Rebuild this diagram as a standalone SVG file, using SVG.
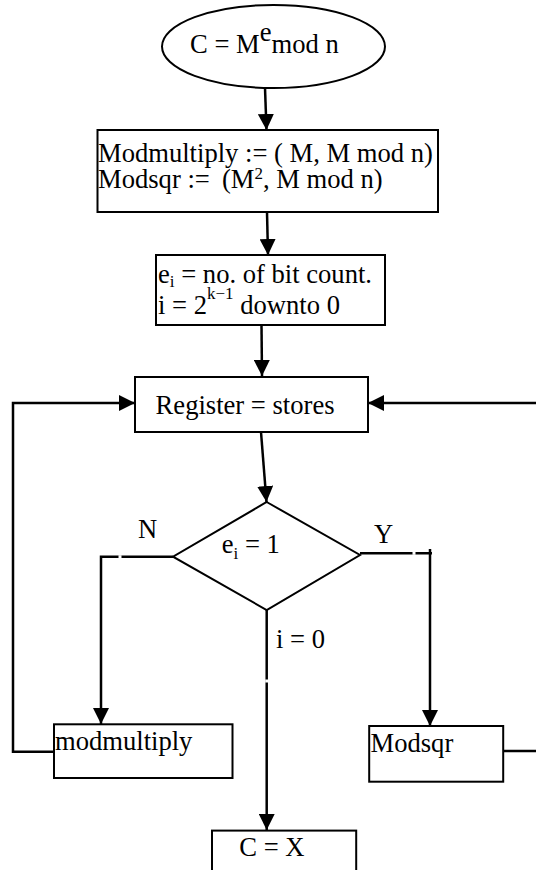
<svg xmlns="http://www.w3.org/2000/svg" width="536" height="870" viewBox="0 0 536 870">
  <style>
    text { font-family: 'Liberation Serif', 'Times New Roman', 'DejaVu Serif', serif; font-size: 26.6px; fill: #000; }
    .sup { font-size: 17px; }
    .sub { font-size: 17px; }
    .shape { fill: #fff; stroke: #000; stroke-width: 2; }
    .conn { fill: none; stroke: #000; stroke-width: 2.5; }
    .gap { stroke: #fff; stroke-width: 3; }
  </style>
  <defs>
    <marker id="arrow" markerUnits="userSpaceOnUse" markerWidth="16" markerHeight="16" refX="16" refY="8" orient="auto">
      <path d="M0,0 L16,8 L0,16 Z" fill="#000"/>
    </marker>
  </defs>

  <rect width="536" height="870" fill="#fff"/>

  <!-- connectors -->
  <g id="connectors">
    <line class="conn" x1="265" y1="88" x2="266.5" y2="130" marker-end="url(#arrow)"/>
    <line class="conn" x1="267" y1="212" x2="268" y2="255" marker-end="url(#arrow)"/>
    <line class="conn" x1="261.5" y1="325" x2="262" y2="376" marker-end="url(#arrow)"/>
    <line class="conn" x1="261" y1="432" x2="266.5" y2="502" marker-end="url(#arrow)"/>
    <!-- N branch -->
    <polyline class="conn" points="173,556.7 101,556.7 101,724" marker-end="url(#arrow)"/>
    <line class="gap" x1="120" y1="556.7" x2="120" y2="556.7" stroke-linecap="square"/>
    <!-- Y branch -->
    <line class="conn" x1="360" y1="553.3" x2="432" y2="553.3"/>
    <line class="conn" x1="430" y1="549" x2="430" y2="726" marker-end="url(#arrow)"/>
    <line class="gap" x1="414" y1="553.3" x2="414" y2="553.3" stroke-linecap="square"/>
    <!-- i = 0 branch -->
    <line class="conn" x1="266.7" y1="610" x2="266.7" y2="830" marker-end="url(#arrow)"/>
    <line class="gap" x1="266.7" y1="681" x2="266.7" y2="681" stroke-linecap="square"/>
    <!-- feedback loops -->
    <polyline class="conn" points="54,751.7 13,751.7 13,403 135,403" marker-end="url(#arrow)"/>
    <polyline class="conn" points="503,751 538,751 538,403 368,403" marker-end="url(#arrow)"/>
  </g>

  <g id="start">
    <ellipse class="shape" cx="273.5" cy="46.5" rx="111.5" ry="41.5"/>
    <text x="190" y="53.3">C = M<tspan dy="-12">e</tspan><tspan dy="12">mod n</tspan></text>
  </g>

  <g id="init">
    <rect class="shape" x="97.5" y="130" width="340.5" height="82"/>
    <text x="98" y="161.7">Modmultiply := ( M, M mod n)</text>
    <text x="98" y="188.3">Modsqr :=<tspan x="222">(M</tspan><tspan class="sup" dy="-9">2</tspan><tspan dy="9">, M mod n)</tspan></text>
  </g>

  <g id="bits">
    <rect class="shape" x="156" y="255" width="229" height="70"/>
    <text x="158" y="283.3">e<tspan class="sub" dy="4">i</tspan><tspan dy="-4"> = no. of bit count.</tspan></text>
    <text x="158" y="314">i = 2<tspan class="sup" dy="-15">k−1</tspan><tspan dy="15"> downto 0</tspan></text>
  </g>

  <g id="register">
    <rect class="shape" x="135" y="377" width="233" height="55"/>
    <text x="155.6" y="413.8">Register = stores</text>
  </g>

  <g id="decision">
    <polygon class="shape" points="266.7,502 360,555 266.7,610 173,556.7"/>
    <text x="221.7" y="553.3">e<tspan class="sub" dy="6">i</tspan><tspan dy="-6"> = 1</tspan></text>
  </g>

  <g id="labels">
    <text x="138" y="538.3">N</text>
    <text x="374" y="543.3">Y</text>
    <text x="276" y="648">i = 0</text>
  </g>

  <g id="modmultiply">
    <rect class="shape" x="54" y="724.3" width="178.5" height="53.7"/>
    <text x="55" y="750">modmultiply</text>
  </g>

  <g id="modsqr">
    <rect class="shape" x="369.2" y="726" width="134" height="55.7"/>
    <text x="370.5" y="751.6">Modsqr</text>
  </g>

  <g id="result">
    <rect class="shape" x="212" y="830.6" width="144.2" height="50"/>
    <text x="239.3" y="856">C = X</text>
  </g>
</svg>
